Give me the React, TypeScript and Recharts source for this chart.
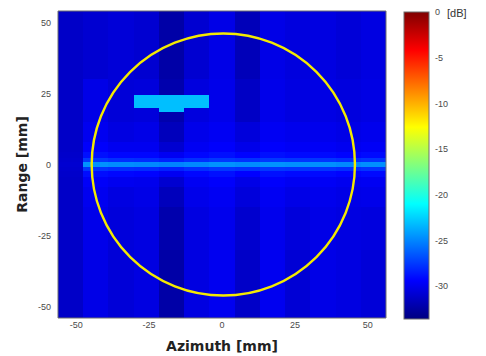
import React from 'react';
import { ComposedChart, XAxis, YAxis, ReferenceArea, Label } from 'recharts';

// axis limits (mm) and colour scale limits (dB)
const X_MIN = -56.25;
const X_MAX = 56.25;
const Y_MIN = -54;
const Y_MAX = 54;
const DB_MIN = -33.6;
const DB_MAX = 0;

const xTicks = [-50, -25, 0, 25, 50];
const yTicks = [-50, -25, 0, 25, 50];
// small inward marks that do not line up with the labels
const xMinorTicks = [-43.27, -25.96, -8.65, 8.65, 25.96, 43.27];
const yMinorTicks = [39.2, 24.4, 9.6, -5.2, -20.0, -34.8, -49.6];
const dbTicks = [0, -5, -10, -15, -20, -25, -30];

// image grid: 13 azimuth columns, uneven range rows
const columnEdges = [-56.25, -47.6, -38.94, -30.29, -21.63, -12.98, -4.33, 4.33, 12.98, 21.63, 30.29, 38.94, 47.6, 56.25];
const rowEdges = [54, 30, 15, 8, 4.5, 2.2, 0.85, -0.85, -2.2, -4.5, -8, -15, -30, -54];

// dB per cell, one row per range band (top to bottom), one value per column
const cellDb = [
  [-31.2, -30.9, -30.7, -30.9, -32.3, -30.9, -30.2, -31.7, -30.2, -30.5, -30.4, -30.7, -30.4],
  [-31.2, -30.2, -30.7, -30.6, -32.1, -30.5, -30.1, -31.3, -30.1, -30.4, -30.3, -30.5, -30.3],
  [-31.2, -29.9, -30.4, -30.2, -31.6, -30.1, -29.8, -30.6, -29.8, -30.0, -30.0, -30.2, -30.0],
  [-31.2, -29.5, -29.9, -29.9, -30.9, -29.8, -29.5, -30.1, -29.5, -29.7, -29.7, -29.9, -29.7],
  [-31.1, -28.9, -29.2, -29.2, -29.8, -29.2, -28.9, -29.3, -28.9, -29.1, -29.1, -29.3, -29.1],
  [-31.0, -27.6, -27.9, -28.0, -28.3, -27.9, -27.6, -27.8, -27.6, -27.7, -27.7, -27.9, -27.7],
  [-30.9, -24.6, -24.8, -24.9, -25.1, -24.9, -24.6, -24.8, -24.6, -24.7, -24.7, -24.9, -24.7],
  [-31.0, -27.7, -27.9, -28.0, -28.3, -27.9, -27.6, -27.8, -27.6, -27.7, -27.7, -27.9, -27.7],
  [-31.1, -29.0, -29.2, -29.3, -29.8, -29.2, -28.9, -29.4, -28.9, -29.1, -29.1, -29.3, -29.1],
  [-31.2, -29.6, -29.9, -30.0, -30.9, -29.8, -29.5, -30.2, -29.5, -29.8, -29.7, -29.9, -29.8],
  [-31.2, -29.9, -30.4, -30.2, -31.6, -30.1, -29.8, -30.6, -29.8, -30.2, -30.0, -30.2, -30.1],
  [-31.2, -30.1, -30.6, -30.4, -32.1, -30.4, -30.0, -31.0, -30.0, -30.6, -30.2, -30.4, -30.5],
  [-31.2, -30.2, -30.7, -30.4, -32.3, -30.4, -29.9, -31.2, -29.9, -30.8, -30.2, -30.4, -30.7],
];

// bright return near (−16, 22)
const blobCols = [3, 4, 5];
const blobTop = [24.5, 24.5, 24.5];
const blobBottom = [19.8, 18.6, 19.8];
const blobDb = [-23.1, -23.1, -23.1];

// yellow target outline
const ringCx = 0.45;
const ringCy = 0;
const ringRx = 45.15;
const ringRy = 46.1;

const BORDER = '#6e6e6e';
const TICK_MARK = '#222';
const tickFont = { fill: '#4a4a4a', fontSize: 9, fontFamily: 'Liberation Sans' };

function jet(db: number) {
  const t = Math.min(1, Math.max(0, (db - DB_MIN) / (DB_MAX - DB_MIN)));
  const ch = (c: number) => Math.round(255 * Math.min(1, Math.max(0, 1.5 - Math.abs(4 * t - c))));
  return `rgb(${ch(3)},${ch(2)},${ch(1)})`;
}

const CellRect = (p: any) => (
  <rect x={p.x} y={p.y} width={p.width} height={p.height} fill={p.fill} shapeRendering="crispEdges" />
);

const Ring = (p: any) => (
  <ellipse
    cx={p.x + p.width / 2}
    cy={p.y + p.height / 2}
    rx={p.width / 2}
    ry={p.height / 2}
    fill="none"
    stroke="#f4ea00"
    strokeWidth={2.4}
  />
);

const JetBar = (p: any) => (
  <g>
    <defs>
      <linearGradient id="jetGrad" x1="0" y1="1" x2="0" y2="0">
        <stop offset="0" stopColor="#000080" />
        <stop offset="0.125" stopColor="#0000ff" />
        <stop offset="0.375" stopColor="#00ffff" />
        <stop offset="0.625" stopColor="#ffff00" />
        <stop offset="0.875" stopColor="#ff0000" />
        <stop offset="1" stopColor="#800000" />
      </linearGradient>
    </defs>
    <rect x={p.x} y={p.y} width={p.width} height={p.height} fill="url(#jetGrad)" stroke={BORDER} />
  </g>
);

const RangeTitle = (props: any) => {
  const vb = props.viewBox;
  const cx = vb.x + 22;
  const cy = vb.y + vb.height / 2;
  return (
    <text
      x={cx}
      y={cy}
      transform={`rotate(-90 ${cx} ${cy})`}
      textAnchor="middle"
      dominantBaseline="central"
      style={{ fontFamily: 'DejaVu Sans', fontWeight: 'bold', fontSize: 14, fill: '#222' }}
    >
      Range [mm]
    </text>
  );
};

const minorAxis = {
  type: 'number' as const,
  mirror: true,
  allowDataOverflow: true,
  interval: 0 as const,
  tick: false,
  tickSize: 4,
  tickLine: { stroke: TICK_MARK },
};

export default function App() {
  // one row per image column; gives the chart something to bind its axes to
  const columnRows = cellDb[0].map((_, c) => ({
    x: (columnEdges[c] + columnEdges[c + 1]) / 2,
    y: 0,
  }));
  const barRows = dbTicks.map((v) => ({ x: 0.5, y: v }));

  const cells: React.ReactNode[] = [];
  cellDb.forEach((row, r) => {
    row.forEach((v, c) => {
      cells.push(
        <ReferenceArea
          key={`c${r}-${c}`}
          x1={columnEdges[c]}
          x2={columnEdges[c + 1]}
          y1={rowEdges[r + 1]}
          y2={rowEdges[r]}
          fill={jet(v)}
          fillOpacity={1}
          shape={CellRect}
        />
      );
    });
  });
  blobCols.forEach((c, i) => {
    cells.push(
      <ReferenceArea
        key={`b${i}`}
        x1={columnEdges[c]}
        x2={columnEdges[c + 1]}
        y1={blobBottom[i]}
        y2={blobTop[i]}
        fill={jet(blobDb[i])}
        fillOpacity={1}
        shape={CellRect}
      />
    );
  });

  return (
    <div style={{ position: 'absolute', left: 0, top: 0, width: 486, height: 356, background: '#fff' }}>
      <div style={{ position: 'absolute', left: 0, top: 0 }}>
        <ComposedChart data={columnRows} width={486} height={356} margin={{ top: 11, right: 100, bottom: 0, left: 0 }}>
          <XAxis
            dataKey="x"
            type="number"
            domain={[X_MIN, X_MAX]}
            allowDataOverflow
            ticks={xTicks}
            interval={0}
            height={38}
            tickLine={false}
            tickSize={0}
            tickMargin={4}
            axisLine={{ stroke: BORDER }}
            tick={tickFont}
          >
            <Label
              value="Azimuth [mm]"
              position="insideBottom"
              offset={5}
              style={{ fontFamily: 'DejaVu Sans', fontWeight: 'bold', fontSize: 14, fill: '#222' }}
            />
          </XAxis>
          <XAxis xAxisId="bm" dataKey="x" orientation="bottom" domain={[X_MIN, X_MAX]} ticks={xMinorTicks} axisLine={false} {...minorAxis} />
          <XAxis xAxisId="tm" dataKey="x" orientation="top" domain={[X_MIN, X_MAX]} ticks={xMinorTicks} axisLine={{ stroke: BORDER }} {...minorAxis} />
          <YAxis
            dataKey="y"
            type="number"
            domain={[Y_MIN, Y_MAX]}
            allowDataOverflow
            ticks={yTicks}
            interval={0}
            width={58}
            tickLine={false}
            tickSize={0}
            tickMargin={7}
            axisLine={{ stroke: BORDER }}
            tick={tickFont}
          >
            <Label content={RangeTitle} />
          </YAxis>
          <YAxis yAxisId="lm" dataKey="y" orientation="left" domain={[Y_MIN, Y_MAX]} ticks={yMinorTicks} axisLine={false} {...minorAxis} />
          <YAxis yAxisId="rm" dataKey="y" orientation="right" domain={[Y_MIN, Y_MAX]} ticks={yMinorTicks} axisLine={{ stroke: BORDER }} {...minorAxis} />
          {cells}
          <ReferenceArea
            x1={ringCx - ringRx}
            x2={ringCx + ringRx}
            y1={ringCy - ringRy}
            y2={ringCy + ringRy}
            shape={Ring}
          />
        </ComposedChart>
      </div>

      <div style={{ position: 'absolute', left: 380, top: 0 }}>
        <ComposedChart data={barRows} width={106} height={356} margin={{ top: 12, right: 0, bottom: 37, left: 24 }}>
          <XAxis dataKey="x" type="number" domain={[0, 1]} allowDataOverflow hide />
          <YAxis
            dataKey="y"
            orientation="right"
            type="number"
            domain={[DB_MIN, DB_MAX]}
            allowDataOverflow
            ticks={dbTicks}
            interval={0}
            width={57}
            tickLine={false}
            tickSize={0}
            tickMargin={6}
            axisLine={false}
            tick={tickFont}
          />
          <ReferenceArea x1={0} x2={1} y1={DB_MIN} y2={DB_MAX} shape={JetBar} />
          <YAxis yAxisId="cl" dataKey="y" orientation="left" domain={[DB_MIN, DB_MAX]} ticks={dbTicks} axisLine={false} {...minorAxis} />
          <YAxis yAxisId="cr" dataKey="y" orientation="right" domain={[DB_MIN, DB_MAX]} ticks={dbTicks} axisLine={false} {...minorAxis} />
        </ComposedChart>
      </div>

      <div
        style={{
          position: 'absolute',
          left: 447,
          top: 7,
          fontFamily: 'Liberation Sans',
          fontSize: 11,
          color: '#333',
        }}
      >
        [dB]
      </div>
    </div>
  );
}
